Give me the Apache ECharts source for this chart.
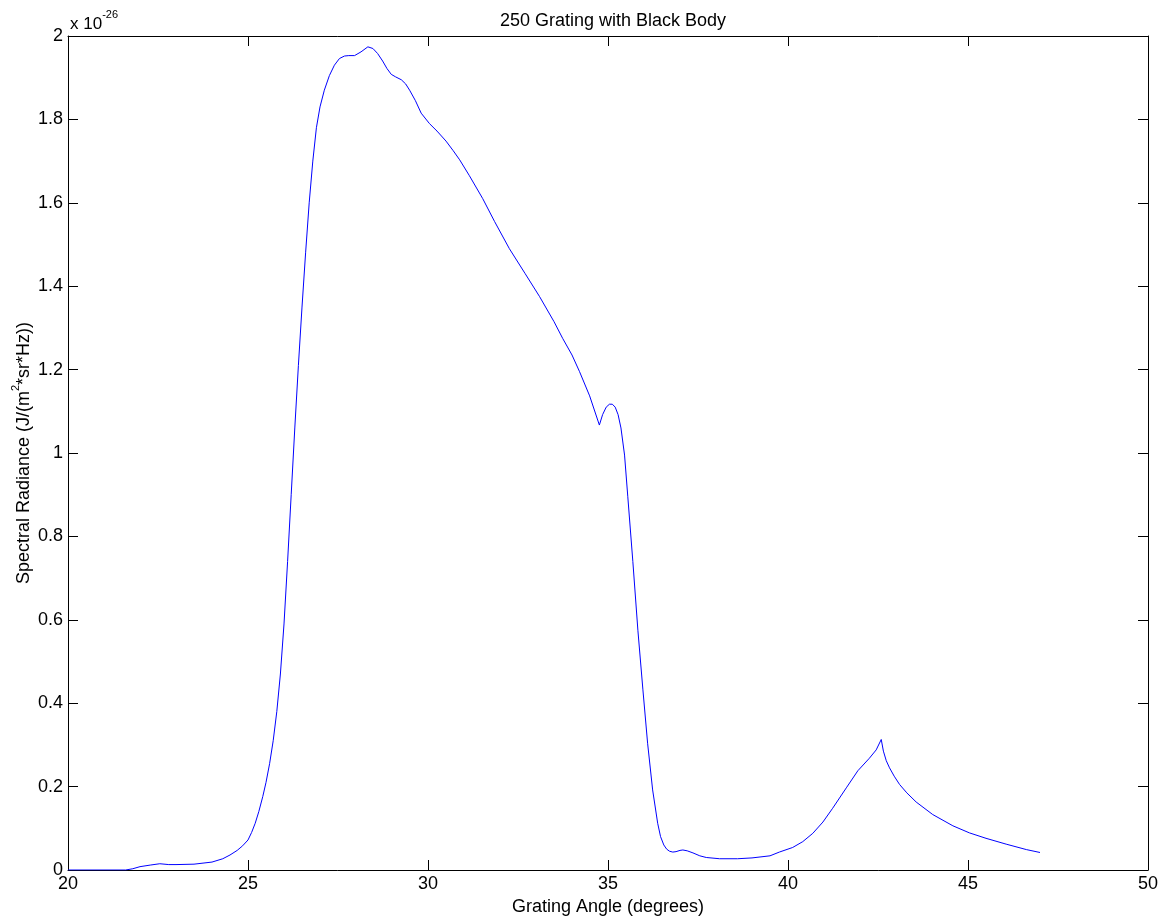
<!DOCTYPE html>
<html>
<head>
<meta charset="utf-8">
<script src="https://cdn.jsdelivr.net/npm/echarts@6/dist/echarts.min.js"></script>
<style>html,body{margin:0;padding:0;background:#fff}#c{width:1169px;height:919px}</style>
</head>
<body>
<div id="c"></div>
<script>
// Grating angle (degrees)
var angles = [20, 21, 21.6, 21.8, 22.0, 22.3, 22.55, 22.8, 23.0, 23.5, 24.0, 24.3, 24.5, 24.7, 24.85, 25.0, 25.1, 25.2, 25.3, 25.41, 25.5, 25.6, 25.7, 25.8, 25.9, 26.0, 26.1, 26.2, 26.3, 26.4, 26.5, 26.6, 26.7, 26.8, 26.9, 27.0, 27.12, 27.26, 27.4, 27.54, 27.68, 27.8, 27.96, 28.14, 28.33, 28.47, 28.6, 28.74, 28.86, 28.98, 29.1, 29.26, 29.38, 29.49, 29.65, 29.81, 30.04, 30.25, 30.5, 30.7, 30.88, 31.15, 31.52, 31.85, 32.26, 32.7, 33.1, 33.5, 33.74, 34.0, 34.21, 34.49, 34.76, 34.85, 34.95, 35.04, 35.12, 35.2, 35.28, 35.36, 35.46, 35.55, 35.69, 35.83, 35.97, 36.1, 36.24, 36.38, 36.46, 36.55, 36.63, 36.71, 36.8, 36.89, 37.0, 37.08, 37.2, 37.36, 37.55, 37.73, 38.1, 38.6, 39.0, 39.5, 39.76, 40.13, 40.41, 40.69, 40.97, 41.24, 41.62, 41.94, 42.26, 42.45, 42.59, 42.65, 42.73, 42.82, 42.95, 43.1, 43.3, 43.56, 44.02, 44.58, 45.04, 45.5, 46.06, 46.62, 47.0];
// Spectral radiance (x 1e-26 J/(m^2*sr*Hz))
var radiance = [0, 0, 0, 0.003, 0.008, 0.012, 0.015, 0.013, 0.013, 0.014, 0.019, 0.027, 0.036, 0.047, 0.058, 0.072, 0.09, 0.112, 0.14, 0.176, 0.21, 0.255, 0.31, 0.38, 0.47, 0.59, 0.74, 0.90, 1.06, 1.21, 1.35, 1.48, 1.60, 1.70, 1.78, 1.83, 1.87, 1.905, 1.93, 1.946, 1.952, 1.953, 1.953, 1.962, 1.974, 1.970, 1.958, 1.940, 1.922, 1.908, 1.902, 1.895, 1.885, 1.870, 1.845, 1.815, 1.790, 1.772, 1.748, 1.725, 1.703, 1.665, 1.610, 1.555, 1.49, 1.43, 1.375, 1.315, 1.275, 1.235, 1.195, 1.137, 1.067, 1.092, 1.110, 1.117, 1.117, 1.110, 1.092, 1.060, 0.995, 0.895, 0.74, 0.575, 0.432, 0.304, 0.192, 0.112, 0.08, 0.06, 0.05, 0.045, 0.043, 0.044, 0.047, 0.048, 0.046, 0.041, 0.034, 0.030, 0.027, 0.027, 0.029, 0.034, 0.043, 0.054, 0.068, 0.088, 0.115, 0.148, 0.197, 0.238, 0.268, 0.288, 0.313, 0.285, 0.262, 0.245, 0.225, 0.205, 0.185, 0.163, 0.133, 0.106, 0.089, 0.076, 0.062, 0.049, 0.042];
var xTicks = [20, 25, 30, 35, 40, 45, 50];
var yTicks = [0, 0.2, 0.4, 0.6, 0.8, 1, 1.2, 1.4, 1.6, 1.8, 2];

var font = 'Liberation Sans, Arial, Helvetica, sans-serif';
var data = angles.map(function (a, i) { return [a, radiance[i]]; });
var chart = echarts.init(document.getElementById('c'));
var axisLine = { show: true, onZero: false, lineStyle: { color: '#000', width: 1 } };
var tick = { show: true, inside: true, length: 10, lineStyle: { color: '#000' } };
chart.setOption({
  animation: false,
  backgroundColor: '#fff',
  title: {
    text: '250 Grating with Black Body',
    left: 608, top: 7, textAlign: 'center',
    textStyle: { fontFamily: font, fontSize: 18, fontWeight: 'normal', color: '#000' }
  },
  grid: { left: 68, top: 36, width: 1080, height: 834, containLabel: false, outerBoundsMode: 'none' },
  xAxis: [{
    type: 'value', min: xTicks[0], max: xTicks[xTicks.length - 1], interval: 5,
    position: 'bottom',
    axisLine: axisLine, axisTick: tick,
    axisLabel: { fontFamily: font, fontSize: 18, color: '#000', margin: 5 },
    splitLine: { show: false },
    name: 'Grating Angle (degrees)', nameLocation: 'middle', nameGap: 27,
    nameTextStyle: { fontFamily: font, fontSize: 18, color: '#000' }
  }, {
    type: 'value', min: xTicks[0], max: xTicks[xTicks.length - 1], interval: 5,
    position: 'top',
    axisLine: axisLine, axisTick: tick,
    axisLabel: { show: false }, splitLine: { show: false }
  }],
  yAxis: [{
    type: 'value', min: yTicks[0], max: yTicks[yTicks.length - 1], interval: 0.2,
    position: 'left',
    axisLine: axisLine, axisTick: tick,
    axisLabel: { fontFamily: font, fontSize: 18, color: '#000', margin: 5 },
    splitLine: { show: false },
    name: '{a|Spectral Radiance (J/(m}{s|2}{a|*sr*Hz))}', nameLocation: 'middle', nameGap: 30,
    nameMoveOverlap: false,
    nameRotate: 90,
    nameTextStyle: {
      fontFamily: font, fontSize: 18, color: '#000',
      rich: {
        a: { fontFamily: font, fontSize: 18, color: '#000' },
        s: { fontFamily: font, fontSize: 11, color: '#000', verticalAlign: 'top', lineHeight: 28 }
      }
    }
  }, {
    type: 'value', min: yTicks[0], max: yTicks[yTicks.length - 1], interval: 0.2,
    position: 'right',
    axisLine: axisLine, axisTick: tick,
    axisLabel: { show: false }, splitLine: { show: false }
  }],
  graphic: [{
    type: 'text', left: 70, top: 9,
    style: {
      text: '{a|x 10}{s|-26}',
      rich: {
        a: { fontFamily: font, fontSize: 17, fill: '#000', padding: [7, 0, 0, 0] },
        s: { fontFamily: font, fontSize: 11, fill: '#000', verticalAlign: 'top' }
      }
    }
  }],
  series: [{
    type: 'line', data: data, xAxisIndex: 0, yAxisIndex: 0,
    showSymbol: false, symbol: 'none', smooth: false,
    lineStyle: { color: '#0000ff', width: 1 },
    silent: true
  }]
});
</script>
</body>
</html>
